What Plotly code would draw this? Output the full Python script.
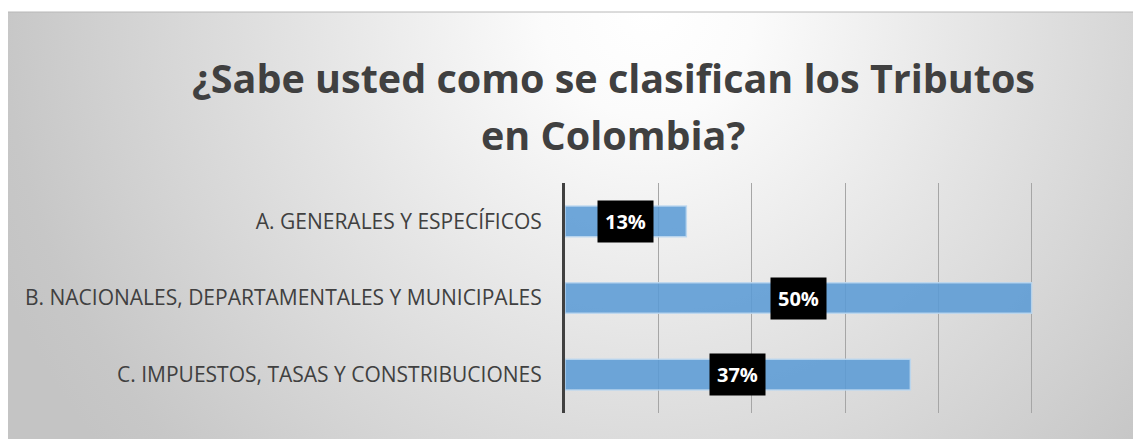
import base64
import plotly.graph_objects as go

categories = [
    "A. GENERALES Y ESPECÍFICOS",
    "B. NACIONALES, DEPARTAMENTALES Y MUNICIPALES",
    "C. IMPUESTOS, TASAS Y CONSTRIBUCIONES",
]
values = [13, 50, 37]
title_lines = ["¿Sabe usted como se clasifican los Tributos", "en Colombia?"]

OFF = 8  # default page margin of the HTML body
W, H = 1141 - OFF, 439 - OFF
ml = 565 - OFF
mr = W - (1125 - OFF)
mt = 183 - OFF
mb = H - (413 - OFF)
pw, ph = W - ml - mr, H - mt - mb

BW, BH = W, H - (12 - OFF)
svg = (
    f"<svg xmlns='http://www.w3.org/2000/svg' width='{BW}' height='{BH}' "
    f"viewBox='0 0 {BW} {BH}' preserveAspectRatio='none'>"
    "<defs><radialGradient id='g' gradientUnits='userSpaceOnUse' "
    "cx='640' cy='0' r='700' fx='640' fy='0'>"
    "<stop offset='0' stop-color='#ffffff'/>"
    "<stop offset='0.15' stop-color='#fbfbfb'/>"
    "<stop offset='0.5' stop-color='#e3e3e3'/>"
    "<stop offset='0.92' stop-color='#c7c7c7'/>"
    "<stop offset='1' stop-color='#c4c4c4'/>"
    "</radialGradient></defs>"
    f"<rect x='0' y='0' width='{BW}' height='{BH}' fill='url(#g)'/></svg>"
)
src = "data:image/svg+xml;base64," + base64.b64encode(svg.encode()).decode()


def px_x(p):
    return (p - ml) / pw


def px_y(p):
    return (H - mb - p) / ph


fig = go.Figure()
fig.add_trace(go.Bar(
    x=values, y=categories, orientation="h",
    marker=dict(color="rgba(91,155,213,0.88)",
                line=dict(color="rgba(189,215,238,0.9)", width=1.5)),
    hoverinfo="skip",
))

for v, c in zip(values, categories):
    fig.add_annotation(
        x=v / 2, y=c, xref="x", yref="y",
        text=f"<b>{v}%</b>", showarrow=False,
        font=dict(family="Open Sans", size=20, color="white"),
        bgcolor="black", borderpad=7,
    )

# title (two lines, as in the reference)
for line, yc in zip(title_lines, [78 - OFF, 135 - OFF]):
    fig.add_annotation(
        x=px_x(613 - OFF), y=px_y(yc), xref="paper", yref="paper",
        xanchor="center", yanchor="middle", showarrow=False,
        text=f"<b>{line}</b>",
        font=dict(family="Open Sans", size=39.5, color="#404040"),
    )

fig.add_layout_image(dict(
    source=src, xref="paper", yref="paper",
    x=px_x(0), y=px_y(12 - OFF), sizex=BW / pw, sizey=BH / ph,
    xanchor="left", yanchor="top", sizing="stretch", layer="below",
))
fig.add_shape(type="line", xref="paper", yref="paper",
              x0=px_x(0), x1=px_x(W), y0=px_y(12 - OFF), y1=px_y(12 - OFF),
              line=dict(color="#b8b8b8", width=1))

fig.update_layout(
    width=W, height=H,
    margin=dict(l=ml, r=mr, t=mt, b=mb),
    paper_bgcolor="white", plot_bgcolor="rgba(0,0,0,0)",
    showlegend=False, bargap=0.6,
    xaxis=dict(range=[0, 60], dtick=10, showticklabels=False,
               showgrid=True, gridcolor="#a6a6a6", gridwidth=1,
               zeroline=False, showline=False, fixedrange=True),
    yaxis=dict(autorange="reversed", showline=True, linecolor="#404040",
               linewidth=3, ticks="outside", ticklen=16,
               tickcolor="rgba(0,0,0,0)", showgrid=False,
               tickfont=dict(family="Open Sans", size=21, color="#404040")),
)

fig.write_html("out.html")
